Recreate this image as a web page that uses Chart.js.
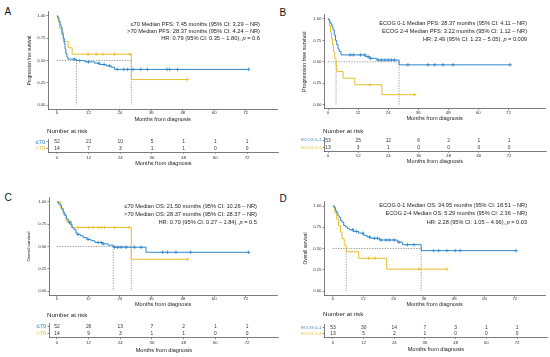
<!DOCTYPE html>
<html><head><meta charset="utf-8">
<script src="https://cdn.jsdelivr.net/npm/chart.js@4.4.1/dist/chart.umd.min.js"></script>
<style>
html,body{margin:0;padding:0;background:#fff;}
body{width:550px;height:357px;position:relative;overflow:hidden;font-family:"Liberation Sans",Arial,sans-serif;}
.pl{position:absolute;font-size:10px;line-height:10px;color:#111;}
canvas{position:absolute;}
</style></head><body>
<div class="pl" style="left:4.5px;top:6.7px">A</div>
<div class="pl" style="left:279.5px;top:7.7px">B</div>
<div class="pl" style="left:4.5px;top:192.7px">C</div>
<div class="pl" style="left:279.5px;top:193.7px">D</div>
<script>
// ---------- shared labels ----------
const MONTHS = [0, 12, 24, 36, 48, 60, 72];
const SURV_TICKS = [0, 0.25, 0.5, 0.75, 1];
const X_TITLE = 'Months from diagnosis';
const PFS_TITLE = 'Progression free survival';
const OS_TITLE = 'Overall survival';
const AGE_GROUPS = ['≤70', '>70'];
const ECOG_GROUPS = ['ECOG 0-1', 'ECOG 2-4'];

// ---------- Panel A: PFS by age ----------
const A_T1 = [0, 0.3, 0.8, 1.2, 1.6, 2.0, 2.4, 2.8, 3.1, 3.4, 3.8, 4.2, 7.45, 10.6, 14.4, 16.3, 18.8, 20.7, 22.0, 73.1];
const A_S1 = [1, 0.98, 0.94, 0.90, 0.87, 0.81, 0.75, 0.69, 0.63, 0.58, 0.54, 0.515, 0.50, 0.485, 0.47, 0.455, 0.44, 0.425, 0.40, 0.40];
const A_C1 = [6.6, 8.7, 12, 16, 18, 20, 23, 25.5, 27, 29, 32, 34.5, 42, 43, 46, 73.1];
const A_T2 = [0, 0.5, 1.0, 1.8, 2.5, 4.3, 5.8, 28.4, 49.7];
const A_S2 = [1, 0.929, 0.857, 0.786, 0.714, 0.643, 0.571, 0.286, 0.286];
const A_C2 = [11.9, 15, 17.6, 22, 27.8, 49.7];
const A_MED = [7.45, 28.37];
const A_RISK1 = [52, 21, 10, 5, 1, 1, 1];
const A_RISK2 = [14, 7, 3, 1, 1, 0, 0];
const A_NOTES = ['≤70 Median PFS: 7.45 months (95% CI: 3.29 – NR)', '>70 Median PFS: 28.37 months (95% CI: 4.24 – NR)', 'HR: 0.79 (95% CI: 0.35 – 1.80), p = 0.6'];

// ---------- Panel B: PFS by ECOG ----------
const B_T1 = [0, 0.4, 0.8, 1.2, 1.6, 2.0, 2.5, 3.0, 3.5, 4.0, 4.5, 5.2, 15, 16.5, 19.5, 28.37, 72.7];
const B_S1 = [1, 0.98, 0.96, 0.94, 0.91, 0.87, 0.81, 0.75, 0.70, 0.65, 0.62, 0.58, 0.56, 0.54, 0.52, 0.464, 0.464];
const B_C1 = [8.8, 10.1, 13, 14.7, 16, 17, 20, 21.3, 22.7, 24, 25.3, 26.6, 31.9, 39.9, 42.6, 45.9, 49.9, 72.7];
const B_T2 = [0, 0.6, 1.0, 1.4, 1.8, 2.2, 2.7, 3.22, 3.5, 6.0, 10.7, 21.5, 34.6];
const B_S2 = [1, 0.923, 0.846, 0.769, 0.692, 0.615, 0.538, 0.462, 0.385, 0.308, 0.231, 0.115, 0.115];
const B_C2 = [16.7, 34.6];
const B_MED = [28.37, 3.22];
const B_RISK1 = [53, 25, 12, 6, 2, 1, 1];
const B_RISK2 = [13, 3, 1, 0, 0, 0, 0];
const B_NOTES = ['ECOG 0-1 Median PFS: 28.37 months (95% CI: 4.11 – NR)', 'ECOG 2-4 Median PFS: 3.22 months (95% CI: 1.12 – NR)', 'HR: 2.49 (95% CI: 1.23 – 5.05), p = 0.009'];

// ---------- Panel C: OS by age ----------
const C_T1 = [0, 0.6, 1.2, 1.8, 2.4, 3.0, 3.6, 4.3, 5.0, 5.8, 6.5, 7.3, 8.0, 9.0, 10.0, 11.5, 13.0, 14.5, 17.5, 19.5, 21.5, 34, 73.1];
const C_S1 = [1, 0.98, 0.96, 0.92, 0.885, 0.85, 0.81, 0.77, 0.75, 0.71, 0.69, 0.65, 0.635, 0.62, 0.60, 0.58, 0.565, 0.545, 0.53, 0.515, 0.492, 0.435, 0.435];
const C_C1 = [4.9, 8.1, 11.9, 15.7, 16.9, 17.6, 22, 23.2, 24.5, 26.4, 29.6, 32.1, 40.3, 42.2, 45.4, 51, 73.1];
const C_T2 = [0, 1.5, 2.5, 3.5, 5.5, 28.37, 49.8];
const C_S2 = [1, 0.929, 0.857, 0.786, 0.714, 0.357, 0.357];
const C_C2 = [8.1, 12.2, 13.8, 15.7, 16.9, 18.1, 22, 27.5, 49.8];
const C_MED = [21.50, 28.37];
const C_RISK1 = [52, 26, 13, 7, 2, 1, 1];
const C_RISK2 = [14, 9, 3, 1, 1, 0, 0];
const C_NOTES = ['≤70 Median OS: 21.50 months (95% CI: 10.26 – NR)', '>70 Median OS: 28.37 months (95% CI: 28.37 – NR)', 'HR: 0.70 (95% CI: 0.27 – 1.84), p = 0.5'];

// ---------- Panel D: OS by ECOG ----------
const D_T1 = [0, 0.5, 1.0, 1.5, 2.0, 2.5, 3.0, 3.6, 4.3, 5.0, 5.8, 6.5, 8.2, 10.2, 12.1, 13.5, 15.0, 18.5, 25.5, 27.5, 34.95, 72.5];
const D_S1 = [1, 0.98, 0.945, 0.925, 0.885, 0.865, 0.83, 0.81, 0.77, 0.755, 0.735, 0.72, 0.70, 0.68, 0.655, 0.635, 0.62, 0.60, 0.575, 0.545, 0.475, 0.475];
const D_C1 = [7.9, 9.3, 11.9, 14.5, 16.4, 17.7, 19.0, 21.0, 22.3, 24.2, 26.2, 29.5, 32.1, 39.9, 41.9, 45.1, 48.4, 50.4, 72.5];
const D_T2 = [0, 0.8, 1.5, 2.2, 3.0, 3.6, 4.5, 5.29, 10.2, 21.3, 45.1];
const D_S2 = [1, 0.923, 0.846, 0.769, 0.692, 0.615, 0.538, 0.462, 0.385, 0.257, 0.257];
const D_C2 = [14.1, 16.7, 34, 45.1];
const D_MED = [34.95, 5.29];
const D_RISK1 = [53, 30, 14, 7, 3, 1, 1];
const D_RISK2 = [13, 5, 2, 1, 0, 0, 0];
const D_NOTES = ['ECOG 0-1 Median OS: 34.95 months (95% CI: 18.51 – NR)', 'ECOG 2-4 Median OS: 5.29 months (95% CI: 2.36 – NR)', 'HR: 2.28 (95% CI: 1.05 – 4.96), p = 0.03'];

// ---------- drawing ----------
const BLUE = '#2F87CD', YEL = '#E8BE2B';
const FONT = '"Liberation Sans", Arial, sans-serif';
const AXC = '#444';
Chart.defaults.font.family = FONT;
Chart.defaults.color = '#333';
Chart.defaults.animation = false;

function stepVal(T, S, t) { let v = S[0]; for (let i = 0; i < T.length; i++) if (T[i] <= t) v = S[i]; return v; }

function mkCanvas(x, y, w, h) {
  const c = document.createElement('canvas');
  c.width = w; c.height = h;
  c.style.left = x + 'px'; c.style.top = y + 'px';
  c.style.width = w + 'px'; c.style.height = h + 'px';
  document.body.appendChild(c);
  return c;
}

function xAxis(o, h) {
  const lhX = o.xTitleSize * 1.2;
  const xH = o.cy + h - o.area.b;
  const tpb = (o.cy + h) - (o.xTitleY + lhX / 2);
  const tickPad = o.tickY - o.area.b - 1.5 - 4.3 * 1.2 / 2;
  return {
    type: 'linear', min: o.xmin, max: o.xmax,
    afterBuildTicks: s => { s.ticks = MONTHS.map(v => ({ value: v })); },
    afterFit: s => { s.height = xH; },
    ticks: { font: { size: 4.3 }, color: '#333', padding: tickPad, maxRotation: 0, autoSkip: false, callback: v => String(v) },
    grid: { drawOnChartArea: false, drawTicks: true, tickLength: 1.5, color: AXC, lineWidth: 0.6 },
    border: { display: true, color: AXC, width: 0.7 },
    title: { display: true, text: X_TITLE, font: { size: o.xTitleSize }, color: '#222', padding: { top: 0, bottom: tpb } }
  };
}

function kmChart(o) {
  const lhX = o.xTitleSize * 1.2;
  const h = Math.ceil(o.xTitleY + lhX / 2 - o.cy);
  const cv = mkCanvas(o.cx, o.cy, o.cw, h);
  const lhY = o.yTitleSize * 1.2;
  const padL = o.yTitleX - lhY / 2 - o.cx;
  const yW = o.area.l - o.cx - padL;
  const ds = [];
  const curves = [[o.T1, o.S1, o.C1, BLUE], [o.T2, o.S2, o.C2, YEL]];
  curves.forEach(([T, S, C, col]) => {
    ds.push({ data: T.map((t, i) => ({ x: t, y: S[i] })), showLine: true, stepped: true, borderColor: col, borderWidth: 1, pointRadius: 0, order: 1 });
    ds.push({ data: C.map(t => ({ x: t, y: stepVal(T, S, t) })), showLine: false, pointStyle: 'cross', pointRadius: 1.8, borderColor: col, borderWidth: 0.8, order: 0 });
  });
  const mmax = Math.max(...o.med);
  const dash = { showLine: true, borderColor: '#777', borderWidth: 0.7, borderDash: [1.3, 1.3], pointRadius: 0, order: 3 };
  ds.push(Object.assign({ data: [{ x: 0, y: 0.5 }, { x: mmax, y: 0.5 }] }, dash));
  o.med.forEach(m => ds.push(Object.assign({ data: [{ x: m, y: 0.5 }, { x: m, y: 0 }] }, dash)));

  const notes = {
    id: 'notes', afterDraw(chart) {
      const ctx = chart.ctx; ctx.save();
      ctx.font = `6px ${FONT}`;
      const fs = 6 * o.noteW / ctx.measureText(o.notes[0]).width;
      ctx.fillStyle = '#222'; ctx.textBaseline = 'middle';
      o.notes.forEach((line, i) => {
        const x = o.noteR - o.cx, y = o.noteY[i] - o.cy;
        const k = line.indexOf(', p = ');
        if (k < 0) { ctx.font = `${fs}px ${FONT}`; ctx.textAlign = 'right'; ctx.fillText(line, x, y); }
        else {
          const a = line.slice(0, k + 2), p = 'p', b = line.slice(k + 3);
          ctx.font = `${fs}px ${FONT}`; const wa = ctx.measureText(a).width, wb = ctx.measureText(b).width;
          ctx.font = `italic ${fs}px ${FONT}`; const wp = ctx.measureText(p).width;
          ctx.textAlign = 'left'; let sx = x - wa - wp - wb;
          ctx.font = `${fs}px ${FONT}`; ctx.fillText(a, sx, y); sx += wa;
          ctx.font = `italic ${fs}px ${FONT}`; ctx.fillText(p, sx, y); sx += wp;
          ctx.font = `${fs}px ${FONT}`; ctx.fillText(b, sx, y);
        }
      });
      ctx.restore();
    }
  };

  new Chart(cv, {
    type: 'scatter',
    data: { datasets: ds },
    options: {
      responsive: false, animation: false,
      layout: { padding: { left: padL, top: o.area.t - o.cy, right: o.cx + o.cw - o.area.r, bottom: 0 } },
      plugins: { legend: { display: false }, tooltip: { enabled: false } },
      scales: {
        x: xAxis(o, h),
        y: {
          type: 'linear', min: -0.05, max: 1.05,
          afterBuildTicks: s => { s.ticks = SURV_TICKS.map(v => ({ value: v })); },
          afterFit: s => { s.width = yW; },
          ticks: { font: { size: 4.3 }, color: '#333', padding: 1, callback: v => Number(v).toFixed(2) },
          grid: { drawOnChartArea: false, drawTicks: true, tickLength: 1.5, color: AXC, lineWidth: 0.6 },
          border: { display: true, color: AXC, width: 0.7 },
          title: { display: true, text: o.yTitle, font: { size: o.yTitleSize }, color: '#222', padding: 0 }
        }
      }
    },
    plugins: [notes]
  });
}

function riskChart(o) {
  const lhX = o.xTitleSize * 1.2;
  const h = Math.ceil(o.xTitleY + lhX / 2 - o.cy);
  const cv = mkCanvas(o.cx, o.cy, o.cw, h);
  const yW = o.area.l - o.cx;
  const nums = {
    id: 'nums', afterDraw(chart) {
      const ctx = chart.ctx, xs = chart.scales.x, ys = chart.scales.y; ctx.save();
      ctx.font = `${o.numSize}px ${FONT}`; ctx.textAlign = 'center'; ctx.textBaseline = 'middle'; ctx.fillStyle = '#333';
      [o.risk1, o.risk2].forEach((row, r) => {
        const yv = r === 0 ? 2 : 1;
        row.forEach((n, i) => ctx.fillText(String(n), xs.getPixelForValue(MONTHS[i]), ys.getPixelForValue(yv)));
      });
      ctx.font = `${o.narSize}px ${FONT}`; ctx.textAlign = 'left'; ctx.fillStyle = '#222';
      ctx.fillText('Number at risk', o.narX - o.cx, o.narY - o.cy);
      ctx.restore();
    }
  };
  new Chart(cv, {
    type: 'scatter',
    data: { datasets: [] },
    options: {
      responsive: false, animation: false,
      layout: { padding: { left: 0, top: o.area.t - o.cy, right: o.cx + o.cw - o.area.r, bottom: 0 } },
      plugins: { legend: { display: false }, tooltip: { enabled: false } },
      scales: {
        x: xAxis(o, h),
        y: {
          type: 'linear', min: 0.45, max: 2.45,
          afterBuildTicks: s => { s.ticks = [{ value: 1 }, { value: 2 }]; },
          afterFit: s => { s.width = yW; },
          ticks: { font: { size: o.labSize }, padding: 1.2, color: c => (c.tick && c.tick.value === 2) ? BLUE : YEL, callback: v => v === 2 ? o.groups[0] : o.groups[1] },
          grid: { drawOnChartArea: false, drawTicks: true, tickLength: 1.5, color: AXC, lineWidth: 0.6 },
          border: { display: true, color: AXC, width: 0.7 }
        }
      }
    },
    plugins: [nums]
  });
}

// Panel A
kmChart({ cx: 0, cy: 0, cw: 282, area: { l: 48, r: 278.7, t: 11.5, b: 109.5 }, xmin: -3.4, xmax: 84,
  yTitle: PFS_TITLE, yTitleX: 30, yTitleSize: 4.5, tickY: 113, xTitleY: 119.5, xTitleSize: 5.6,
  T1: A_T1, S1: A_S1, C1: A_C1, T2: A_T2, S2: A_S2, C2: A_C2, med: A_MED,
  notes: A_NOTES, noteR: 260, noteY: [24, 31, 38], noteW: 130 });
riskChart({ cx: 0, cy: 124, cw: 282, area: { l: 48, r: 278.7, t: 139, b: 152.3 }, xmin: -3.4, xmax: 84,
  tickY: 157.5, xTitleY: 163, xTitleSize: 5.6, narX: 47, narY: 131, narSize: 6.2, numSize: 4.9,
  labSize: 5.9, groups: AGE_GROUPS, risk1: A_RISK1, risk2: A_RISK2 });

// Panel B
kmChart({ cx: 290, cy: 0, cw: 260, area: { l: 324, r: 546, t: 14.7, b: 108.8 }, xmin: -1.6, xmax: 86.7,
  yTitle: PFS_TITLE, yTitleX: 304, yTitleSize: 5.5, tickY: 113.3, xTitleY: 118.7, xTitleSize: 5.6,
  T1: B_T1, S1: B_S1, C1: B_C1, T2: B_T2, S2: B_S2, C2: B_C2, med: B_MED,
  notes: B_NOTES, noteR: 527, noteY: [23.3, 31, 39], noteW: 148 });
riskChart({ cx: 290, cy: 124, cw: 260, area: { l: 324, r: 546, t: 137, b: 151.3 }, xmin: -1.6, xmax: 86.7,
  tickY: 156, xTitleY: 161.7, xTitleSize: 5.6, narX: 323, narY: 131, narSize: 6.2, numSize: 4.9,
  labSize: 4.3, groups: ECOG_GROUPS, risk1: B_RISK1, risk2: B_RISK2 });

// Panel C
kmChart({ cx: 0, cy: 185, cw: 282, area: { l: 49, r: 278.7, t: 197.5, b: 295.5 }, xmin: -3.0, xmax: 84,
  yTitle: OS_TITLE, yTitleX: 28.3, yTitleSize: 4.4, tickY: 298.8, xTitleY: 304.3, xTitleSize: 5.6,
  T1: C_T1, S1: C_S1, C1: C_C1, T2: C_T2, S2: C_S2, C2: C_C2, med: C_MED,
  notes: C_NOTES, noteR: 257, noteY: [206, 214, 222.7], noteW: 133 });
riskChart({ cx: 0, cy: 308, cw: 282, area: { l: 49, r: 278.7, t: 323.5, b: 337.8 }, xmin: -3.0, xmax: 84,
  tickY: 342.7, xTitleY: 350, xTitleSize: 5.6, narX: 47, narY: 315, narSize: 6.2, numSize: 4.9,
  labSize: 5.9, groups: AGE_GROUPS, risk1: C_RISK1, risk2: C_RISK2 });

// Panel D
kmChart({ cx: 290, cy: 185, cw: 260, area: { l: 324, r: 547.7, t: 201.75, b: 295.25 }, xmin: -3.5, xmax: 84,
  yTitle: OS_TITLE, yTitleX: 306, yTitleSize: 4.7, tickY: 298.8, xTitleY: 304.3, xTitleSize: 5.6,
  T1: D_T1, S1: D_S1, C1: D_C1, T2: D_T2, S2: D_S2, C2: D_C2, med: D_MED,
  notes: D_NOTES, noteR: 527, noteY: [205, 213, 222], noteW: 148 });
riskChart({ cx: 290, cy: 308, cw: 260, area: { l: 324, r: 547.7, t: 324.5, b: 337.3 }, xmin: -3.5, xmax: 84,
  tickY: 342.7, xTitleY: 349.3, xTitleSize: 5.6, narX: 323, narY: 314, narSize: 6.2, numSize: 4.9,
  labSize: 4.3, groups: ECOG_GROUPS, risk1: D_RISK1, risk2: D_RISK2 });
</script>
</body></html>
